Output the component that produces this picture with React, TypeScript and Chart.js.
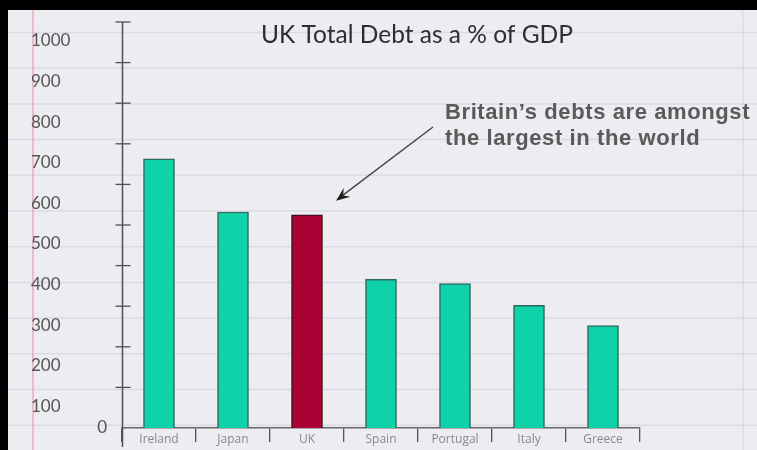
import React, { useEffect, useRef } from "react";
import { Chart, registerables } from "chart.js";

Chart.register(...registerables);

const countries = ["Ireland", "Japan", "UK", "Spain", "Portugal", "Italy", "Greece"];
const debtPct = [663, 532, 525, 366, 356, 302, 252];
const barColors = ["#0fd2a9", "#0fd2a9", "#aa0234", "#0fd2a9", "#0fd2a9", "#0fd2a9", "#0fd2a9"];
const barBorders = ["#2b6b5c", "#2b6b5c", "#4a0a1a", "#2b6b5c", "#2b6b5c", "#2b6b5c", "#2b6b5c"];
const yTickValues = [100, 200, 300, 400, 500, 600, 700, 800, 900, 1000];
const yTickLabels = ["100", "200", "300", "400", "500", "600", "700", "800", "900", "1000"];
const titleText = "UK Total Debt as a % of GDP";
const noteLines = ["Britain\u2019s debts are amongst", "the largest in the world"];

const W = 757;
const H = 450;

const paperPlugin = {
  id: "paper",
  beforeDraw(chart: any) {
    const ctx = chart.ctx;
    ctx.save();
    ctx.fillStyle = "#000";
    ctx.fillRect(0, 0, W, H);
    ctx.fillStyle = "#ececf1";
    ctx.fillRect(8, 10, W - 8, H - 10);
    ctx.strokeStyle = "rgba(200,200,210,0.45)";
    ctx.lineWidth = 1.5;
    for (let y = 32.5; y < H; y += 35.7) {
      ctx.beginPath();
      ctx.moveTo(8, y);
      ctx.lineTo(W, y);
      ctx.stroke();
    }
    ctx.strokeStyle = "rgba(236,150,172,0.7)";
    ctx.lineWidth = 1.6;
    ctx.beginPath();
    ctx.moveTo(33, 10);
    ctx.lineTo(33, H);
    ctx.stroke();
    ctx.strokeStyle = "rgba(236,170,190,0.3)";
    ctx.beginPath();
    ctx.moveTo(743, 10);
    ctx.lineTo(743, H);
    ctx.stroke();
    ctx.restore();
  },
  afterDraw(chart: any) {
    const ctx = chart.ctx;
    const ys = chart.scales.y;
    const area = chart.chartArea;
    ctx.save();
    // y axis line + tick marks
    const ax = Math.round(area.left) + 0.5;
    ctx.strokeStyle = "#505050";
    ctx.lineWidth = 1.5;
    ctx.beginPath();
    ctx.moveTo(ax, ys.getPixelForValue(1000));
    ctx.lineTo(ax, area.bottom + 19);
    ctx.stroke();
    ctx.lineWidth = 1.3;
    yTickValues.forEach((v) => {
      const py = ys.getPixelForValue(v);
      ctx.beginPath();
      ctx.moveTo(ax - 7, py);
      ctx.lineTo(ax + 8, py);
      ctx.stroke();
    });
    // y labels (hand-placed below their ticks as in the drawing)
    ctx.fillStyle = "#555";
    ctx.font = "17px Lato";
    ctx.textBaseline = "middle";
    ctx.textAlign = "left";
    yTickValues.forEach((v, i) => {
      ctx.fillText(yTickLabels[i], 31, ys.getPixelForValue(v) + 19);
    });
    ctx.textAlign = "right";
    ctx.fillText("0", 107, ys.getPixelForValue(0));
    // title
    ctx.fillStyle = "#2e2e2e";
    ctx.font = "24.5px Lato";
    ctx.textAlign = "center";
    ctx.textBaseline = "alphabetic";
    ctx.fillText(titleText, 417, 43);
    // note
    ctx.fillStyle = "#5a5a5a";
    ctx.font = "bold 22px 'Liberation Sans'";
    ctx.textAlign = "left";
    (ctx as any).letterSpacing = "0.6px";
    ctx.fillText(noteLines[0], 445, 119);
    ctx.fillText(noteLines[1], 445, 145);
    (ctx as any).letterSpacing = "0px";
    // arrow pointing to UK bar
    const uk = chart.getDatasetMeta(0).data[2];
    const tipX = uk.x + 29;
    const tipY = uk.y - 14;
    const sx = 433;
    const sy = 127;
    ctx.strokeStyle = "#444";
    ctx.lineWidth = 1.4;
    ctx.beginPath();
    ctx.moveTo(sx, sy);
    ctx.lineTo(tipX + 6, tipY - 5);
    ctx.stroke();
    const ang = Math.atan2(tipY - sy, tipX - sx);
    const len = 15;
    ctx.fillStyle = "#222";
    ctx.beginPath();
    ctx.moveTo(tipX, tipY);
    ctx.lineTo(tipX - len * Math.cos(ang - 0.38), tipY - len * Math.sin(ang - 0.38));
    ctx.lineTo(tipX - len * 0.6 * Math.cos(ang), tipY - len * 0.6 * Math.sin(ang));
    ctx.lineTo(tipX - len * Math.cos(ang + 0.38), tipY - len * Math.sin(ang + 0.38));
    ctx.closePath();
    ctx.fill();
    ctx.restore();
  },
};

export default function App() {
  const ref = useRef<HTMLCanvasElement | null>(null);
  useEffect(() => {
    document.body.style.margin = "0";
    const canvas = ref.current!;
    const chart = new Chart(canvas, {
      type: "bar",
      data: {
        labels: countries,
        datasets: [
          {
            data: debtPct,
            backgroundColor: barColors,
            borderColor: barBorders,
            borderWidth: 1.5,
            barThickness: 31,
            borderSkipped: "bottom",
          },
        ],
      },
      options: {
        responsive: false,
        animation: false,
        devicePixelRatio: 1,
        layout: { padding: { top: 22, right: 117, bottom: 0, left: 0 } },
        plugins: { legend: { display: false }, tooltip: { enabled: false }, title: { display: false } },
        scales: {
          x: {
            type: "category",
            offset: true,
            grid: {
              display: true,
              drawOnChartArea: false,
              drawTicks: true,
              tickLength: 14,
              color: "#555",
              lineWidth: 1.3,
              offset: true,
            },
            border: { display: true, color: "#666", width: 1.5 },
            ticks: {
              font: { family: "'Open Sans'", size: 12 },
              color: "#8a8a8a",
              padding: -10,
              maxRotation: 0,
              autoSkip: false,
            },
            afterFit: (s: any) => {
              s.height = 22;
            },
          },
          y: {
            type: "linear",
            min: 0,
            max: 1000,
            ticks: { display: false, stepSize: 100 },
            grid: { display: false },
            border: { display: false },
            afterFit: (s: any) => {
              s.width = 122;
            },
          },
        },
      },
      plugins: [paperPlugin],
    });
    return () => chart.destroy();
  }, []);
  return (
    <div style={{ position: "absolute", left: 0, top: 0, width: W, height: H }}>
      <canvas ref={ref} width={W} height={H} style={{ width: W, height: H, display: "block" }} />
    </div>
  );
}
